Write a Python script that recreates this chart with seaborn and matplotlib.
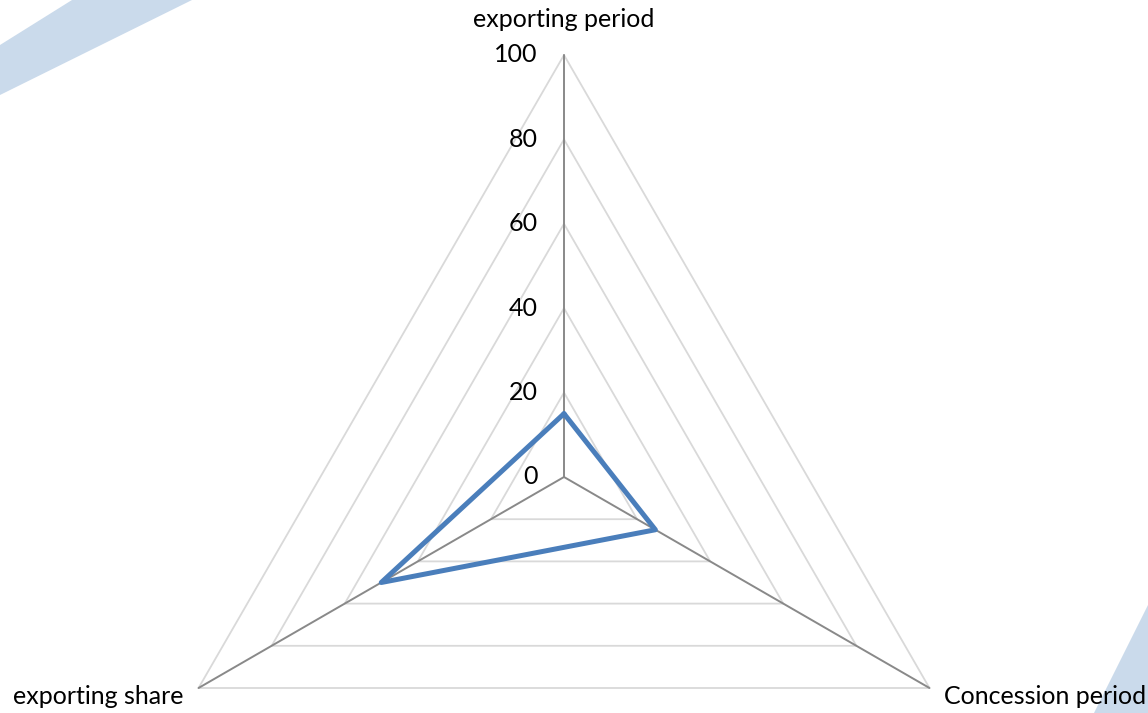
import numpy as np
import matplotlib
matplotlib.use("Agg")
import matplotlib.pyplot as plt
from matplotlib.patches import Polygon
import seaborn as sns
import pandas as pd

# Radar data
categories = ["exporting period", "Concession period", "exporting share"]
values = [15, 25, 50]
levels = [0, 20, 40, 60, 80, 100]
level_labels = ["0", "20", "40", "60", "80", "100"]

sns.set_theme(style="white")
plt.rcParams["font.family"] = ["Lato", "DejaVu Sans"]

W, H = 1148, 713
fig = plt.figure(figsize=(W / 100, H / 100), dpi=100)
fig.patch.set_facecolor("white")

# decorative bands in the page corners (figure pixel coordinates)
band = "#CADAEB"
fig.patches.append(Polygon([(0, H - 45), (72, H), (192, H), (0, H - 95)],
                           closed=True, transform=None, facecolor=band,
                           edgecolor="none", zorder=-5))
fig.patches.append(Polygon([(1094, 0), (W, H - 605), (W, 0)],
                           closed=True, transform=None, facecolor=band,
                           edgecolor="none", zorder=-5))

ax = fig.add_axes([0, 0, 1, 1])
ax.set_facecolor("none")
ax.set_zorder(1)
scale = 4.22          # pixels per value unit
cx, cy = 564, H - 477  # centre in pixels
ax.set_xlim(-cx / scale, (W - cx) / scale)
ax.set_ylim(-cy / scale, (H - cy) / scale)
ax.set_aspect("equal")
ax.axis("off")

n = len(categories)
angles = np.pi / 2 - np.arange(n) * 2 * np.pi / n
ux, uy = np.cos(angles), np.sin(angles)

# polygonal grid
for lv in levels[1:]:
    gx = np.append(ux * lv, ux[0] * lv)
    gy = np.append(uy * lv, uy[0] * lv)
    ax.plot(gx, gy, color="#D9D9D9", lw=1.3, zorder=1)

# spokes
for i in range(n):
    ax.plot([0, ux[i] * levels[-1]], [0, uy[i] * levels[-1]],
            color="#898989", lw=1.4, zorder=2)

fs = 18
# value labels along the vertical spoke
for lv, lab in zip(levels, level_labels):
    ax.text(-6.3, lv, lab, ha="right", va="center", fontsize=fs, color="black")

# category labels
ax.text(0, levels[-1] + 8.3, categories[0], ha="center", va="center",
        fontsize=fs, color="black")
ax.text(ux[1] * levels[-1] + 3.5, uy[1] * levels[-1] - 2, categories[1],
        ha="left", va="center", fontsize=fs, color="black")
ax.text(ux[2] * levels[-1] - 3.5, uy[2] * levels[-1] - 2, categories[2],
        ha="right", va="center", fontsize=fs, color="black")

# data polygon
df = pd.DataFrame({
    "x": np.append(ux * np.array(values), ux[0] * values[0]),
    "y": np.append(uy * np.array(values), uy[0] * values[0]),
    "order": np.arange(n + 1),
})
sns.lineplot(data=df, x="x", y="y", sort=False, estimator=None, ax=ax,
             color="#4A7EBB", lw=3.6, zorder=3)
ax.set_xlabel("")
ax.set_ylabel("")

fig.savefig("out.png", dpi=100, facecolor="white")
